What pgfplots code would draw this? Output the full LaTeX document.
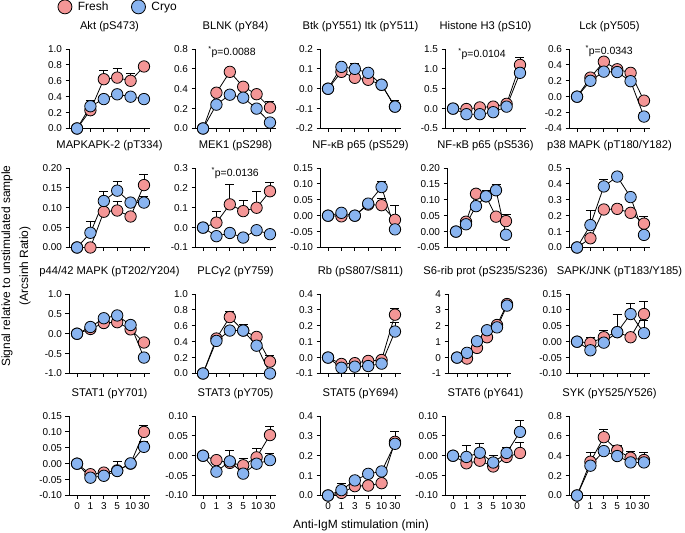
\documentclass[border=0pt]{standalone}
\usepackage{pgfplots}
\pgfplotsset{compat=1.18}
\usepackage{fontspec}
\setmainfont{Liberation Sans}
\definecolor{freshc}{RGB}{244,150,150}
\definecolor{cryoc}{RGB}{137,180,240}
\tikzset{annot/.style={font=\fontsize{10.5}{12}\selectfont}}
\pgfplotsset{
  panel/.style={scale only axis, width=81bp, height=79.5bp, xmin=-0.6, xmax=5.45,
    axis x line*=bottom, axis y line*=left, axis line style={line width=0.8bp,-},
    xtick={0,1,2,3,4,5}, xticklabels={}, tick align=outside, major tick length=3.5bp,
    tick style={line width=0.8bp, black},
    ticklabel style={font=\fontsize{10}{12}\selectfont},
    title style={font=\fontsize{11.2}{13}\selectfont, at={(0.5,1)}, anchor=base, yshift=14bp},
    scaled y ticks=false, /pgf/number format/assume math mode=true,
    yticklabel style={/pgf/number format/fixed, /pgf/number format/fixed zerofill},
    clip=false, anchor=north west},
  narrow/.style={width=63bp, xmin=-0.9, xmax=5.4},
  prec/.style={yticklabel style={/pgf/number format/precision=#1}},
  bottomrow/.style={xticklabels={0,1,3,5,10,30}},
  fresh/.style={black, line width=0.8bp, mark=*, mark size=5.7bp,
    mark options={fill=freshc, draw=black, line width=0.8bp},
    error bars/y dir=plus, error bars/y explicit,
    error bars/error bar style={line width=0.8bp, black},
    error bars/error mark options={black, line width=0.8bp, mark size=4.5bp, rotate=90}},
  cryo/.style={black, line width=0.8bp, mark=*, mark size=5.7bp,
    mark options={fill=cryoc, draw=black, line width=0.8bp},
    error bars/y dir=plus, error bars/y explicit,
    error bars/error bar style={line width=0.8bp, black},
    error bars/error mark options={black, line width=0.8bp, mark size=4.5bp, rotate=90}},
}
\begin{document}
\begin{tikzpicture}
\useasboundingbox (0,0) rectangle (685bp,533bp);
% ---------------- Row 1 ----------------
\begin{axis}[panel, at={(69bp,484bp)}, title={Akt (pS473)}, ymin=0, ymax=1, ytick={0,0.2,0.4,0.6,0.8,1.0}, prec=1,
  legend style={at={(-0.176,1.53)}, anchor=west, draw=none, fill=none, font=\fontsize{12}{14}\selectfont,
    /tikz/every odd column/.append style={column sep=4bp},
    /tikz/every even column/.append style={column sep=21bp}},
  legend columns=2, legend cell align=left,
  legend image code/.code={\draw[#1] plot coordinates {(0bp,0bp)};}]
\addlegendimage{only marks, mark=*, mark size=7bp, mark options={fill=freshc, draw=black, line width=0.8bp}}
\addlegendentry{Fresh}
\addlegendimage{only marks, mark=*, mark size=7bp, mark options={fill=cryoc, draw=black, line width=0.8bp}}
\addlegendentry{Cryo}
\addplot[fresh, forget plot] table[row sep=\\, y error=e] {x y e\\ 0 0 0\\ 1 0.23 0\\ 2 0.62 0.11\\ 3 0.64 0.11\\ 4 0.60 0.09\\ 5 0.78 0\\};
\addplot[cryo, forget plot] table[row sep=\\, y error=e] {x y e\\ 0 0 0\\ 1 0.28 0.07\\ 2 0.37 0\\ 3 0.43 0.04\\ 4 0.40 0.02\\ 5 0.37 0\\};
\end{axis}
\begin{axis}[panel, at={(195bp,484bp)}, title={BLNK (pY84)}, ymin=0, ymax=0.8, ytick={0,0.2,0.4,0.6,0.8}, prec=1]
\addplot[fresh] table[row sep=\\, y error=e] {x y e\\ 0 0 0\\ 1 0.36 0.03\\ 2 0.57 0\\ 3 0.42 0\\ 4 0.345 0.02\\ 5 0.21 0.06\\};
\addplot[cryo] table[row sep=\\, y error=e] {x y e\\ 0 0 0\\ 1 0.24 0\\ 2 0.34 0\\ 3 0.31 0\\ 4 0.20 0\\ 5 0.06 0\\};
\node[annot] at (axis cs:2.16,0.77) {\textsuperscript{*}p=0.0088};
\end{axis}
\begin{axis}[panel, at={(320bp,484bp)}, title={Btk (pY551) Itk (pY511)}, ymin=-0.2, ymax=0.2, ytick={-0.2,-0.1,0,0.1,0.2}, prec=1]
\addplot[fresh] table[row sep=\\, y error=e] {x y e\\ 0 0 0\\ 1 0.085 0\\ 2 0.055 0\\ 3 0.045 0\\ 4 0.02 0\\ 5 -0.09 0\\};
\addplot[cryo] table[row sep=\\, y error=e] {x y e\\ 0 0 0\\ 1 0.11 0\\ 2 0.10 0.025\\ 3 0.08 0\\ 4 0.02 0.015\\ 5 -0.09 0.03\\};
\end{axis}
\begin{axis}[panel, at={(445bp,484bp)}, title={Histone H3 (pS10)}, ymin=-0.5, ymax=1.5, ytick={-0.5,0,0.5,1.0,1.5}, prec=1]
\addplot[fresh] table[row sep=\\, y error=e] {x y e\\ 0 0 0\\ 1 -0.01 0\\ 2 0.03 0\\ 3 0.05 0\\ 4 0.12 0\\ 5 1.10 0.19\\};
\addplot[cryo] table[row sep=\\, y error=e] {x y e\\ 0 0 0\\ 1 -0.14 0\\ 2 -0.14 0\\ 3 -0.09 0\\ 4 0.05 0\\ 5 0.90 0\\};
\node[annot] at (axis cs:2.16,1.37) {\textsuperscript{*}p=0.0104};
\end{axis}
\begin{axis}[panel, at={(569bp,484bp)}, title={Lck (pY505)}, ymin=-0.4, ymax=0.6, ytick={-0.4,-0.2,0,0.2,0.4,0.6}, prec=1]
\addplot[fresh] table[row sep=\\, y error=e] {x y e\\ 0 0 0\\ 1 0.24 0\\ 2 0.44 0\\ 3 0.345 0\\ 4 0.30 0\\ 5 -0.05 0\\};
\addplot[cryo] table[row sep=\\, y error=e] {x y e\\ 0 0 0\\ 1 0.20 0\\ 2 0.315 0\\ 3 0.31 0\\ 4 0.195 0\\ 5 -0.25 0.05\\};
\node[annot] at (axis cs:2.4,0.575) {\textsuperscript{*}p=0.0343};
\end{axis}
% ---------------- Row 2 ----------------
\begin{axis}[panel, at={(69bp,365bp)}, title={MAPKAPK-2 (pT334)}, ymin=0, ymax=0.2, ytick={0,0.05,0.10,0.15,0.20}, prec=2]
\addplot[fresh] table[row sep=\\, y error=e] {x y e\\ 0 0 0\\ 1 0 0\\ 2 0.09 0\\ 3 0.093 0.023\\ 4 0.078 0\\ 5 0.157 0.028\\};
\addplot[cryo] table[row sep=\\, y error=e] {x y e\\ 0 0 0\\ 1 0.037 0.028\\ 2 0.117 0.023\\ 3 0.143 0.024\\ 4 0.113 0\\ 5 0.113 0.015\\};
\end{axis}
\begin{axis}[panel, at={(195bp,365bp)}, title={MEK1 (pS298)}, ymin=-0.1, ymax=0.3, ytick={-0.1,0,0.1,0.2,0.3}, prec=1]
\addplot[fresh] table[row sep=\\, y error=e] {x y e\\ 0 0 0\\ 1 0.025 0.055\\ 2 0.117 0.10\\ 3 0.083 0.052\\ 4 0.10 0.083\\ 5 0.183 0.047\\};
\addplot[cryo] table[row sep=\\, y error=e] {x y e\\ 0 0 0\\ 1 -0.043 0.02\\ 2 -0.027 0\\ 3 -0.05 0.015\\ 4 -0.013 0\\ 5 -0.033 0.015\\};
\node[annot] at (axis cs:2.4,0.275) {\textsuperscript{*}p=0.0136};
\end{axis}
\begin{axis}[panel, at={(320bp,365bp)}, title={NF-κB p65 (pS529)}, ymin=-0.1, ymax=0.15, ytick={-0.10,-0.05,0,0.05,0.10,0.15}, prec=2]
\addplot[fresh] table[row sep=\\, y error=e] {x y e\\ 0 0 0\\ 1 -0.002 0\\ 2 0 0\\ 3 0.035 0\\ 4 0.033 0.021\\ 5 -0.013 0.046\\};
\addplot[cryo] table[row sep=\\, y error=e] {x y e\\ 0 0 0\\ 1 0.009 0\\ 2 0 0\\ 3 0.038 0\\ 4 0.09 0.019\\ 5 -0.043 0\\};
\end{axis}
\begin{axis}[panel, narrow, at={(447bp,365bp)}, title={NF-κB p65 (pS536)}, title style={xshift=7bp}, ymin=-0.05, ymax=0.2, ytick={-0.05,0,0.05,0.10,0.15,0.20}, prec=2]
\addplot[fresh] table[row sep=\\, y error=e] {x y e\\ 0 0 0\\ 1 0.031 0.01\\ 2 0.119 0\\ 3 0.111 0.019\\ 4 0.047 0\\ 5 0.033 0.02\\};
\addplot[cryo] table[row sep=\\, y error=e] {x y e\\ 0 0 0\\ 1 0.023 0\\ 2 0.08 0\\ 3 0.111 0\\ 4 0.13 0.018\\ 5 -0.01 0\\};
\end{axis}
\begin{axis}[panel, at={(569bp,365bp)}, title={p38 MAPK (pT180/Y182)}, ymin=0, ymax=0.5, ytick={0,0.1,0.2,0.3,0.4,0.5}, prec=1]
\addplot[fresh] table[row sep=\\, y error=e] {x y e\\ 0 0 0\\ 1 0.058 0\\ 2 0.239 0\\ 3 0.243 0.03\\ 4 0.218 0\\ 5 0.15 0.043\\};
\addplot[cryo] table[row sep=\\, y error=e] {x y e\\ 0 0 0\\ 1 0.141 0.09\\ 2 0.384 0.047\\ 3 0.446 0\\ 4 0.317 0\\ 5 0.079 0\\};
\end{axis}
% ---------------- Row 3 ----------------
\begin{axis}[panel, at={(69bp,239bp)}, title={p44/42 MAPK (pT202/Y204)}, ymin=-1, ymax=1, ytick={-1.0,-0.5,0,0.5,1.0}, prec=1]
\addplot[fresh] table[row sep=\\, y error=e] {x y e\\ 0 0 0\\ 1 0.12 0\\ 2 0.27 0\\ 3 0.29 0\\ 4 0.11 0\\ 5 -0.22 0.10\\};
\addplot[cryo] table[row sep=\\, y error=e] {x y e\\ 0 0 0\\ 1 0.17 0\\ 2 0.39 0\\ 3 0.46 0\\ 4 0.22 0\\ 5 -0.60 0\\};
\end{axis}
\begin{axis}[panel, at={(195bp,239bp)}, title={PLCγ2 (pY759)}, ymin=0, ymax=1, ytick={0,0.2,0.4,0.6,0.8,1.0}, prec=1]
\addplot[fresh] table[row sep=\\, y error=e] {x y e\\ 0 0 0\\ 1 0.44 0\\ 2 0.71 0.07\\ 3 0.54 0.08\\ 4 0.46 0.05\\ 5 0.15 0.08\\};
\addplot[cryo] table[row sep=\\, y error=e] {x y e\\ 0 0 0\\ 1 0.41 0.08\\ 2 0.54 0\\ 3 0.54 0\\ 4 0.35 0\\ 5 0.0 0\\};
\end{axis}
\begin{axis}[panel, at={(320bp,239bp)}, title={Rb (pS807/S811)}, ymin=-0.1, ymax=0.4, ytick={-0.1,0,0.1,0.2,0.3,0.4}, prec=1]
\addplot[fresh] table[row sep=\\, y error=e] {x y e\\ 0 0 0\\ 1 -0.04 0\\ 2 -0.035 0\\ 3 -0.021 0\\ 4 -0.015 0\\ 5 0.27 0.04\\};
\addplot[cryo] table[row sep=\\, y error=e] {x y e\\ 0 0 0\\ 1 -0.064 0\\ 2 -0.057 0\\ 3 -0.053 0\\ 4 -0.038 0\\ 5 0.164 0.056\\};
\end{axis}
\begin{axis}[panel, narrow, at={(448bp,239bp)}, title={S6-rib prot (pS235/S236)}, title style={xshift=6bp}, ymin=-1, ymax=4, ytick={-1,0,1,2,3,4}, prec=0]
\addplot[fresh] table[row sep=\\, y error=e] {x y e\\ 0 0 0\\ 1 -0.06 0\\ 2 0.61 0\\ 3 1.28 0\\ 4 2.05 0.13\\ 5 3.37 0\\};
\addplot[cryo] table[row sep=\\, y error=e] {x y e\\ 0 0 0\\ 1 0.30 0\\ 2 1.03 0\\ 3 1.72 0\\ 4 1.90 0\\ 5 3.27 0\\};
\end{axis}
\begin{axis}[panel, at={(569bp,239bp)}, title={SAPK/JNK (pT183/Y185)}, title style={xshift=10bp}, ymin=-0.1, ymax=0.15, ytick={-0.10,-0.05,0,0.05,0.10,0.15}, prec=2]
\addplot[fresh] table[row sep=\\, y error=e] {x y e\\ 0 0 0\\ 1 -0.004 0.019\\ 2 0.014 0.02\\ 3 0.03 0\\ 4 0.014 0\\ 5 0.087 0.039\\};
\addplot[cryo] table[row sep=\\, y error=e] {x y e\\ 0 0 0\\ 1 -0.027 0\\ 2 -0.003 0\\ 3 0.03 0.057\\ 4 0.087 0.033\\ 5 0.027 0.039\\};
\end{axis}
% ---------------- Row 4 ----------------
\begin{axis}[panel, bottomrow, at={(69bp,117bp)}, title={STAT1 (pY701)}, ymin=-0.1, ymax=0.15, ytick={-0.10,-0.05,0,0.05,0.10,0.15}, prec=2]
\addplot[fresh] table[row sep=\\, y error=e] {x y e\\ 0 0 0\\ 1 -0.033 0\\ 2 -0.028 0.01\\ 3 -0.021 0\\ 4 0 0\\ 5 0.10 0.02\\};
\addplot[cryo] table[row sep=\\, y error=e] {x y e\\ 0 0 0\\ 1 -0.044 0\\ 2 -0.038 0\\ 3 -0.023 0.031\\ 4 0.001 0\\ 5 0.053 0.016\\};
\end{axis}
\begin{axis}[panel, bottomrow, at={(195bp,117bp)}, title={STAT3 (pY705)}, ymin=-0.1, ymax=0.1, ytick={-0.10,-0.05,0,0.05,0.10}, prec=2]
\addplot[fresh] table[row sep=\\, y error=e] {x y e\\ 0 0 0\\ 1 -0.011 0\\ 2 -0.018 0\\ 3 -0.024 0.017\\ 4 -0.004 0.023\\ 5 0.052 0.023\\};
\addplot[cryo] table[row sep=\\, y error=e] {x y e\\ 0 0 0\\ 1 -0.04 0\\ 2 -0.014 0.028\\ 3 -0.045 0\\ 4 -0.02 0\\ 5 -0.011 0.017\\};
\end{axis}
\begin{axis}[panel, bottomrow, at={(320bp,117bp)}, title={STAT5 (pY694)}, ymin=0, ymax=0.4, ytick={0,0.1,0.2,0.3,0.4}, prec=1]
\addplot[fresh] table[row sep=\\, y error=e] {x y e\\ 0 0 0\\ 1 0.013 0\\ 2 0.047 0\\ 3 0.05 0\\ 4 0.062 0\\ 5 0.27 0.053\\};
\addplot[cryo] table[row sep=\\, y error=e] {x y e\\ 0 0 0\\ 1 0.027 0.035\\ 2 0.076 0\\ 3 0.109 0\\ 4 0.121 0\\ 5 0.26 0\\};
\end{axis}
\begin{axis}[panel, bottomrow, at={(445bp,117bp)}, title={STAT6 (pY641)}, ymin=-0.1, ymax=0.1, ytick={-0.10,-0.05,0,0.05,0.10}, prec=2]
\addplot[fresh] table[row sep=\\, y error=e] {x y e\\ 0 0 0\\ 1 -0.019 0\\ 2 -0.0125 0\\ 3 -0.027 0\\ 4 -0.003 0\\ 5 0.007 0.026\\};
\addplot[cryo] table[row sep=\\, y error=e] {x y e\\ 0 0 0\\ 1 -0.003 0.029\\ 2 0.0075 0.024\\ 3 -0.017 0.017\\ 4 0.007 0.013\\ 5 0.06 0.03\\};
\end{axis}
\begin{axis}[panel, bottomrow, at={(569bp,117bp)}, title={SYK (pY525/Y526)}, ymin=0, ymax=0.8, ytick={0,0.2,0.4,0.6,0.8}, prec=1]
\addplot[fresh] table[row sep=\\, y error=e] {x y e\\ 0 0 0\\ 1 0.34 0.09\\ 2 0.587 0.08\\ 3 0.453 0.05\\ 4 0.38 0.067\\ 5 0.357 0.076\\};
\addplot[cryo] table[row sep=\\, y error=e] {x y e\\ 0 0 0\\ 1 0.30 0\\ 2 0.447 0\\ 3 0.397 0\\ 4 0.333 0\\ 5 0.333 0\\};
\end{axis}
\node[rotate=90, align=center, font=\fontsize{12}{18}\selectfont] at (16bp,267bp) {Signal relative to unstimulated sample\\(Arcsinh Ratio)};
\node[font=\fontsize{12}{14}\selectfont] at (361bp,8bp) {Anti-IgM stimulation (min)};
\end{tikzpicture}
\end{document}
